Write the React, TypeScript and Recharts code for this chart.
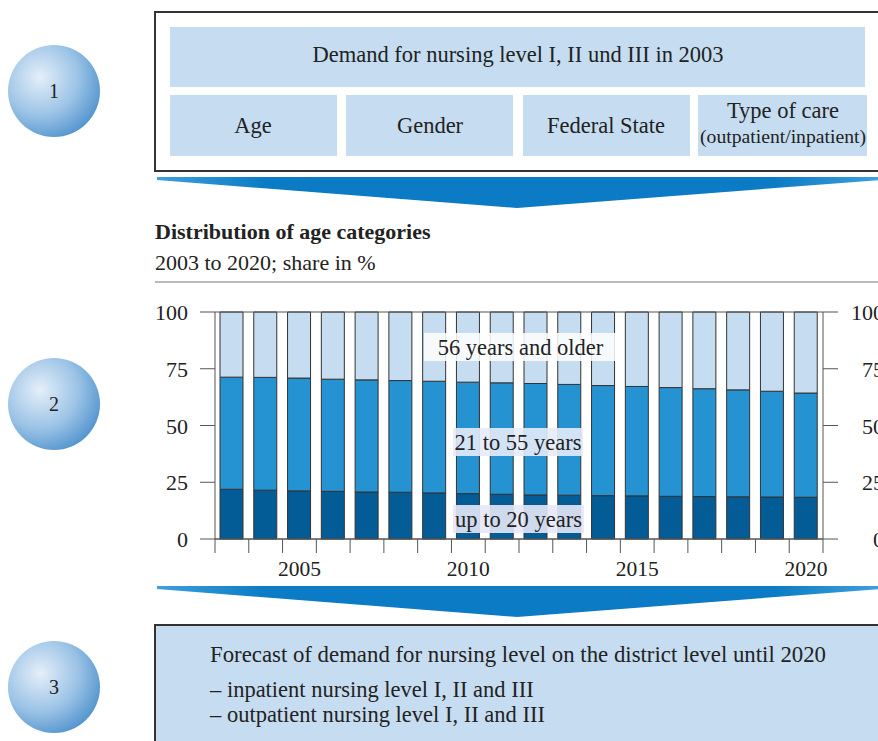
import React from "react";
import { BarChart, Bar, XAxis, YAxis, ReferenceLine } from "recharts";

// share in % per age group, 2003 to 2020
const years = [2003, 2004, 2005, 2006, 2007, 2008, 2009, 2010, 2011, 2012, 2013, 2014, 2015, 2016, 2017, 2018, 2019, 2020];
const upTo20 = [21.9, 21.5, 21.2, 21.0, 20.7, 20.6, 20.3, 20.0, 19.7, 19.4, 19.3, 19.1, 19.0, 18.8, 18.7, 18.6, 18.5, 18.4];
const from21to55 = [49.4, 49.7, 49.7, 49.4, 49.4, 49.2, 49.2, 49.1, 49.1, 49.1, 48.8, 48.5, 48.2, 47.9, 47.5, 47.1, 46.6, 45.9];
const from56 = [28.7, 28.8, 29.1, 29.6, 29.9, 30.2, 30.5, 30.9, 31.2, 31.5, 31.9, 32.4, 32.8, 33.3, 33.8, 34.3, 34.9, 35.7];
const yTicks = [0, 25, 50, 75, 100];

const data = years.map((year, i) => ({
  year,
  young: upTo20[i],
  middle: from21to55[i],
  old: from56[i],
}));

// category boundaries for the tick marks
const boundaryTicks = [...years.map((y) => y - 0.5), years[years.length - 1] + 0.5];

const FONT = "'Liberation Serif', 'Times New Roman', serif";
const AXIS = "#555";
const TEXT = "#222";
const BOX = "#c6ddf1";
const FS = 22.5;

const LeftTick = (props: any) => (
  <text x={props.x} y={props.y + 8} textAnchor="end" fontSize={22} fontFamily={FONT} fill={TEXT}>
    {props.payload.value}
  </text>
);

// right labels are right-aligned past the page edge, so they get cut off
const RightTick = (props: any) => (
  <text x={884} y={props.y + 8} textAnchor="end" fontSize={22} fontFamily={FONT} fill={TEXT}>
    {props.payload.value}
  </text>
);

const YearTick = (props: any) => {
  const v = props.payload.value;
  if (v % 5 !== 0) return <g />;
  return (
    <text x={props.x} y={props.y + 23} textAnchor="middle" fontSize={21.5} fontFamily={FONT} fill={TEXT}>
      {v}
    </text>
  );
};

const Bubble = ({ cy, n }: { cy: number; n: string }) => (
  <g>
    <ellipse cx={54} cy={cy} rx={46} ry={46} fill="url(#bubble)" />
    <text x={54} y={cy + 7} textAnchor="middle" fontSize={20} fontFamily={FONT} fill={TEXT}>
      {n}
    </text>
  </g>
);

const Arrow = ({ y }: { y: number }) => (
  <polygon points={`157,${y} 880,${y} 880,${y + 3} 517,${y + 31} 157,${y + 3}`} fill="url(#arrow)" />
);

const Tag = ({ x, y, w, text, fill, opacity }: any) => (
  <g>
    <rect x={x} y={y} width={w} height={28} fill={fill} fillOpacity={opacity} />
    <text x={x + w / 2} y={y + 22} textAnchor="middle" fontSize={FS} fontFamily={FONT} fill={TEXT}>
      {text}
    </text>
  </g>
);

export default function App() {
  return (
    <div style={{ position: "absolute", left: 0, top: 0, width: 878, height: 741, background: "#fff", overflow: "hidden" }}>
      <BarChart
        width={878}
        height={741}
        data={data}
        margin={{ top: 312, right: 0, bottom: 148, left: 155 }}
        barSize={23}
      >
        <XAxis
          xAxisId="aTicks"
          type="number"
          dataKey="year"
          domain={[2002.5, 2020.5]}
          ticks={boundaryTicks}
          interval={0}
          allowDataOverflow
          height={14}
          tickSize={14}
          stroke={AXIS}
          tick={() => <g />}
        />
        <XAxis
          xAxisId="year"
          dataKey="year"
          type="category"
          height={40}
          interval={0}
          axisLine={false}
          tickLine={false}
          tickSize={0}
          tickMargin={0}
          tick={YearTick}
        />
        <YAxis
          yAxisId="left"
          domain={[0, 100]}
          ticks={yTicks}
          width={60}
          tickSize={15}
          tickMargin={12}
          stroke={AXIS}
          tick={LeftTick}
        />
        <YAxis
          yAxisId="right"
          orientation="right"
          type="number"
          domain={[0, 100]}
          ticks={yTicks}
          interval={0}
          allowDataOverflow
          width={55}
          tickSize={15}
          stroke={AXIS}
          tick={RightTick}
        />
        <ReferenceLine yAxisId="left" xAxisId="year" y={100} stroke={AXIS} />
        <ReferenceLine yAxisId="left" xAxisId="year" y={0} stroke={AXIS} />
        <Bar xAxisId="year" yAxisId="left" dataKey="young" stackId="a" fill="#045c96" stroke="#333" strokeWidth={1} isAnimationActive={false} />
        <Bar xAxisId="year" yAxisId="left" dataKey="middle" stackId="a" fill="#2592d1" stroke="#333" strokeWidth={1} isAnimationActive={false} />
        <Bar xAxisId="year" yAxisId="left" dataKey="old" stackId="a" fill="#c6ddf1" stroke="#333" strokeWidth={1} isAnimationActive={false} />
      </BarChart>

      <svg width={878} height={741} style={{ position: "absolute", left: 0, top: 0, pointerEvents: "none" }}>
        <defs>
          <radialGradient id="bubble" cx="0.35" cy="0.35" r="0.75">
            <stop offset="0" stopColor="#e4eff9" />
            <stop offset="0.55" stopColor="#9cc3e6" />
            <stop offset="1" stopColor="#4a8fcb" />
          </radialGradient>
          <linearGradient id="arrow" x1="0" x2="1" y1="0" y2="0">
            <stop offset="0" stopColor="#3fa0dc" />
            <stop offset="0.15" stopColor="#0a7bc4" />
            <stop offset="0.85" stopColor="#0a7bc4" />
            <stop offset="1" stopColor="#3fa0dc" />
          </linearGradient>
        </defs>

        {/* step 1 */}
        <Bubble cy={91} n="1" />
        <rect x={155} y={12} width={740} height={159} fill="none" stroke="#333" strokeWidth={2} />
        <rect x={170} y={27} width={695} height={60} fill={BOX} />
        <text x={518} y={62} textAnchor="middle" fontSize={FS} fontFamily={FONT} fill={TEXT}>
          Demand for nursing level I, II und III in 2003
        </text>
        <rect x={170} y={95} width={167} height={61} fill={BOX} />
        <rect x={346} y={95} width={167} height={61} fill={BOX} />
        <rect x={523} y={95} width={167} height={61} fill={BOX} />
        <rect x={698} y={95} width={169} height={61} fill={BOX} />
        <text x={253} y={133} textAnchor="middle" fontSize={FS} fontFamily={FONT} fill={TEXT}>Age</text>
        <text x={430} y={133} textAnchor="middle" fontSize={FS} fontFamily={FONT} fill={TEXT}>Gender</text>
        <text x={606} y={133} textAnchor="middle" fontSize={FS} fontFamily={FONT} fill={TEXT}>Federal State</text>
        <text x={783} y={118} textAnchor="middle" fontSize={FS} fontFamily={FONT} fill={TEXT}>Type of care</text>
        <text x={783} y={143} textAnchor="middle" fontSize={19} fontFamily={FONT} fill={TEXT} textLength={166} lengthAdjust="spacingAndGlyphs">
          (outpatient/inpatient)
        </text>
        <Arrow y={177} />

        {/* step 2 */}
        <text x={155} y={239} fontSize={22} fontWeight="bold" fontFamily={FONT} fill={TEXT}>
          Distribution of age categories
        </text>
        <text x={155} y={270} fontSize={22} fontFamily={FONT} fill={TEXT}>
          2003 to 2020; share in %
        </text>
        <line x1={155} y1={282} x2={878} y2={282} stroke="#777" strokeWidth={1} />
        <Bubble cy={404} n="2" />
        <Tag x={424} y={333} w={193} text="56 years and older" fill="#ffffff" opacity={0.85} />
        <Tag x={453} y={428} w={130} text="21 to 55 years" fill="#e6ecf8" opacity={0.9} />
        <Tag x={453} y={505} w={131} text="up to 20 years" fill="#e6e8f6" opacity={0.9} />
        <Arrow y={586} />

        {/* step 3 */}
        <Bubble cy={687} n="3" />
        <rect x={155} y={625} width={740} height={130} fill={BOX} stroke="#333" strokeWidth={2} />
        <text x={210} y={662} fontSize={22.8} fontFamily={FONT} fill={TEXT}>
          Forecast of demand for nursing level on the district level until 2020
        </text>
        <text x={210} y={697} fontSize={FS} fontFamily={FONT} fill={TEXT}>
          – inpatient nursing level I, II and III
        </text>
        <text x={210} y={722} fontSize={FS} fontFamily={FONT} fill={TEXT}>
          – outpatient nursing level I, II and III
        </text>
      </svg>
    </div>
  );
}
